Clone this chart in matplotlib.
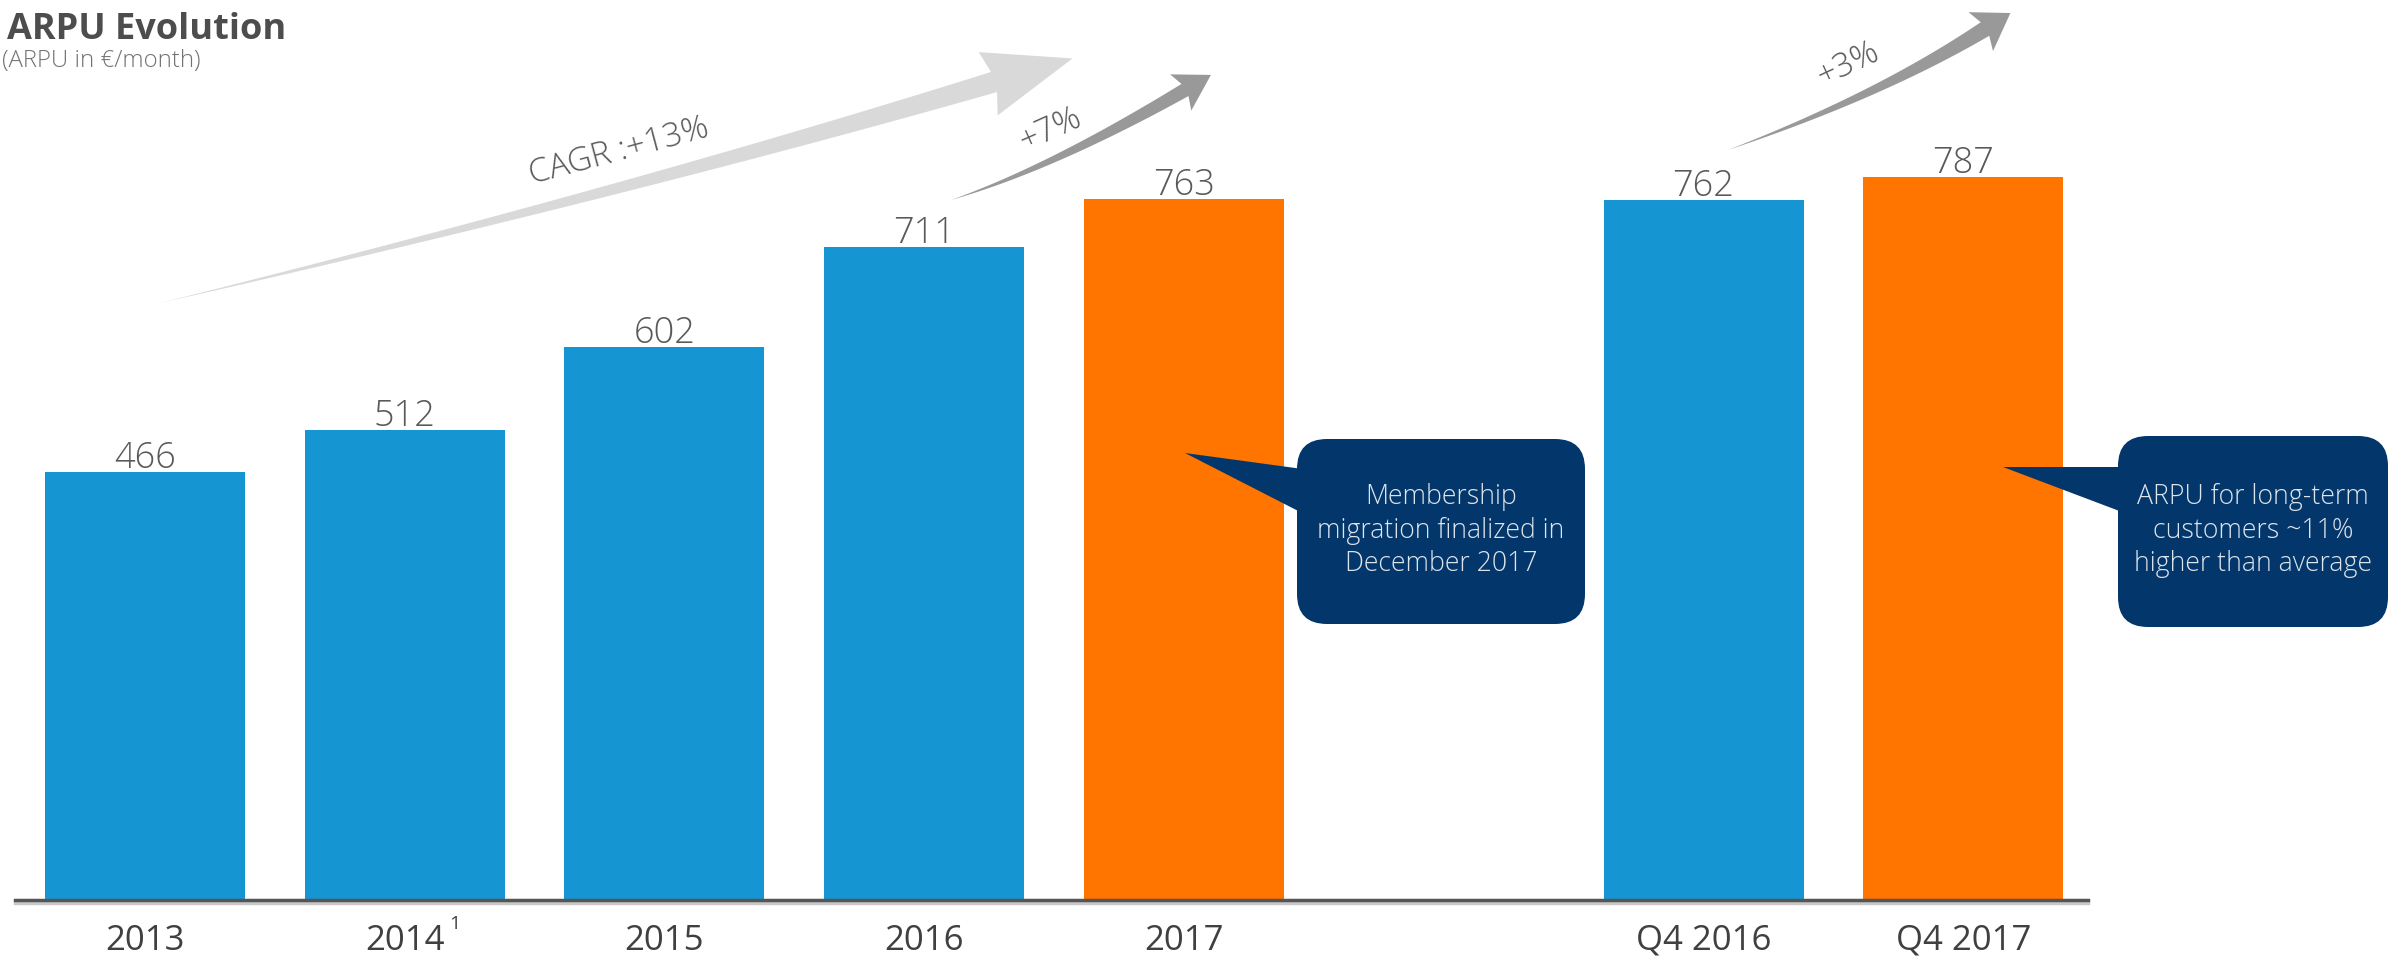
import numpy as np
import matplotlib.pyplot as plt
import matplotlib.patheffects as pe
from matplotlib.patches import Polygon, FancyBboxPatch
from matplotlib.transforms import Affine2D

plt.rcParams['font.family'] = ['Open Sans', 'DejaVu Sans']

categories = ['2013', '2014', '2015', '2016', '2017', 'Q4 2016', 'Q4 2017']
positions = [0, 1, 2, 3, 4, 6, 7]
arpu = [466, 512, 602, 711, 763, 762, 787]
bar_colors = ['#1596d2', '#1596d2', '#1596d2', '#1596d2', '#ff7500', '#1596d2', '#ff7500']

W, H = 2390, 957
fig = plt.figure(figsize=(W / 100, H / 100), dpi=100)
ax = fig.add_axes([15 / W, 1 - 900 / H, 2073 / W, 900 / H])
# pixel grid measured from the top-left corner, used for the annotations
px = Affine2D().scale(1 / W, -1 / H).translate(0, 1) + fig.transFigure

ax.bar(positions, arpu, width=0.77, color=bar_colors, zorder=2)
for x, v in zip(positions, arpu):
    ax.annotate(str(v), (x, v), xytext=(0, 3), textcoords='offset points',
                ha='center', va='baseline', fontsize=26, fontweight='light', color='#595959')

ax.set_xlim(-0.5, 7.48)
ax.set_ylim(0, 980)
ax.set_xticks(positions, categories)
ax.tick_params(axis='x', length=0, pad=17, labelsize=25, labelcolor='#404040')
ax.set_yticks([])
for s in ax.spines.values():
    s.set_visible(False)
ax.axhline(0, color='#555555', lw=2.5, clip_on=False,
           path_effects=[pe.SimpleLineShadow(offset=(0, -2), shadow_color='#c8c8c8', alpha=1), pe.Normal()])
# footnote mark on 2014
ax.annotate('1', (1, 0), xytext=(32, -11), textcoords='offset points',
            ha='left', va='top', fontsize=14, color='#404040')

fig.text(7, 39, 'ARPU Evolution', transform=px, fontsize=26, fontweight='bold', color='#4d4d4d', va='baseline')
fig.text(2, 67, '(ARPU in €/month)', transform=px, fontsize=17.3, fontweight='light', color='#737373',
         va='baseline')


def curved_arrow(p0, p1, p2, width, head_w, head_len, barb, color):
    p0, p1, p2 = map(np.asarray, (p0, p1, p2))
    t = np.linspace(0, 1, 80)[:, None]
    pts = (1 - t) ** 2 * p0 + 2 * (1 - t) * t * p1 + t ** 2 * p2
    tan = 2 * (1 - t) * (p1 - p0) + 2 * t * (p2 - p1)
    tan = tan / np.linalg.norm(tan, axis=1, keepdims=True)
    nrm = np.column_stack([-tan[:, 1], tan[:, 0]])
    half = width / 2 * t
    left = pts + nrm * half
    right = pts - nrm * half
    u, n = tan[-1], nrm[-1]
    head = [p2 + n * head_w / 2 - u * barb, p2 + u * head_len, p2 - n * head_w / 2 - u * barb]
    poly = np.vstack([left, head, right[::-1]])
    fig.add_artist(Polygon(poly, closed=True, transform=px, fc=color, ec='none'))


curved_arrow((160, 303), (627, 192), (994, 82), 21, 66, 82, 6, '#d9d9d9')
curved_arrow((951, 200), (1051, 168), (1185, 90), 14, 42, 30, 5, '#999999')
curved_arrow((1728, 150), (1880, 95), (1985, 29), 16, 46, 30, 5, '#999999')

growth_style = dict(transform=px, ha='center', va='center', rotation_mode='anchor',
                    fontsize=24, fontweight='light', color='#595959')
fig.text(619, 152, 'CAGR :+13%', rotation=15, **growth_style)
fig.text(1050, 130, '+7%', rotation=24, **growth_style)
fig.text(1848, 64, '+3%', rotation=25, **growth_style)

navy = '#03366a'


def callout(box, tip, base, text):
    x0, y0, x1, y1 = box
    fig.add_artist(FancyBboxPatch((x0, y0), x1 - x0, y1 - y0, boxstyle='round,pad=0,rounding_size=30',
                                  transform=px, fc=navy, ec='none'))
    fig.add_artist(Polygon([tip, base[0], base[1]], closed=True, transform=px, fc=navy, ec='none'))
    fig.text((x0 + x1) / 2, (y0 + y1) / 2 - 1, text, transform=px, ha='center', va='center',
             multialignment='center', linespacing=1.28, fontsize=19.2, fontweight='light', color='#dce4ec')


callout((1297, 439, 1585, 624), (1185, 453), [(1310, 470), (1310, 517)],
        'Membership\nmigration finalized in\nDecember 2017')
callout((2118, 436, 2388, 627), (2003, 467), [(2130, 467), (2130, 515)],
        'ARPU for long-term\ncustomers ~11%\nhigher than average')

fig.savefig('out.png', dpi=100, facecolor='white')
